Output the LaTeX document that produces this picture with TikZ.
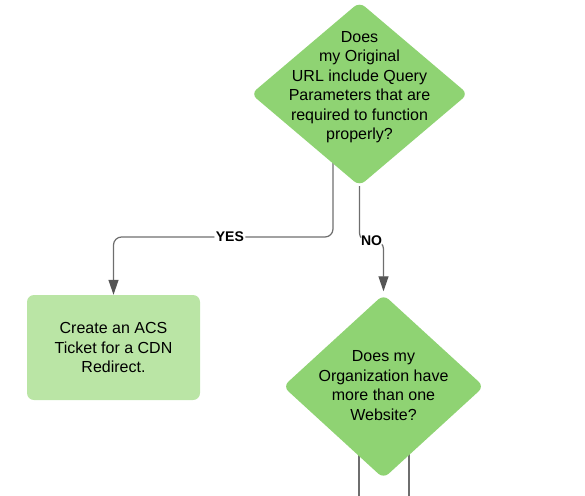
\documentclass[tikz,border=0pt]{standalone}
\usepackage{fontspec}
\setmainfont{Liberation Sans}
\usetikzlibrary{shapes.geometric, arrows.meta, backgrounds, calc}
\definecolor{decgreen}{HTML}{8FD373}
\definecolor{boxgreen}{HTML}{BAE5A5}
\definecolor{linegray}{HTML}{6E6E6E}
\definecolor{tipgray}{HTML}{555555}
\newcommand{\qtext}{\fontsize{16}{19.5}\selectfont}

\begin{document}
\begin{tikzpicture}[x=1pt, y=-1pt,
    decision/.style={diamond, fill=decgreen, rounded corners=7pt, inner sep=0pt},
    action/.style={rectangle, fill=boxgreen, rounded corners=7pt, minimum width=173pt, minimum height=105pt, align=center, font=\qtext},
    question/.style={align=center, font=\qtext, inner sep=0pt},
    link/.style={draw=linegray, line width=1.2pt},
    flow/.style={link, rounded corners=8pt, -{Triangle[length=15pt,width=10pt,color=tipgray]}},
    answer/.style={fill=white, inner sep=1.5pt, font=\bfseries\fontsize{14}{16}\selectfont}]
    \useasboundingbox (0,0) rectangle (585,495);

    \node[decision, minimum width=217pt, minimum height=184pt] (q1) at (359.5,94) {};
    \node[question] (q1text) at ($(q1.center)+(0,-7)$) {Does\\my Original\\URL include Query\\Parameters that are\\required to function\\properly?};

    \node[decision, minimum width=201pt, minimum height=184pt] (q2) at (383.5,386.5) {};
    \node[question] (q2text) at ($(q2.center)+(0,-1)$) {Does my\\Organization have\\more than one\\Website?};

    \node[action] (box) at (113.5,347.5) {Create an ACS\\Ticket for a CDN\\Redirect.};

    \coordinate (in) at (359.5,-15);
    \coordinate (yesA) at (333,237);
    \coordinate (yesB) at (113.5,237);
    \coordinate (noA) at (359.5,241);
    \coordinate (noB) at (383.5,241);
    \coordinate (outL) at (359,505);
    \coordinate (outR) at (409,505);

    \draw[flow, shorten >=3pt] (in) -- (q1.north);
    \begin{scope}[on background layer]
        \draw[flow] (q1.center -| yesA) -- (yesA) -- node[answer, pos=0.47] (yes) {YES} (yesB) -- (box.north);
        \draw[link] (q2.center -| outL) -- (outL);
        \draw[link] (q2.center -| outR) -- (outR);
    \end{scope}
    \draw[flow, shorten >=3pt] (q1.south) -- (noA) -- node[answer] (no) {NO} (noB) -- (q2.north);
\end{tikzpicture}
\end{document}
